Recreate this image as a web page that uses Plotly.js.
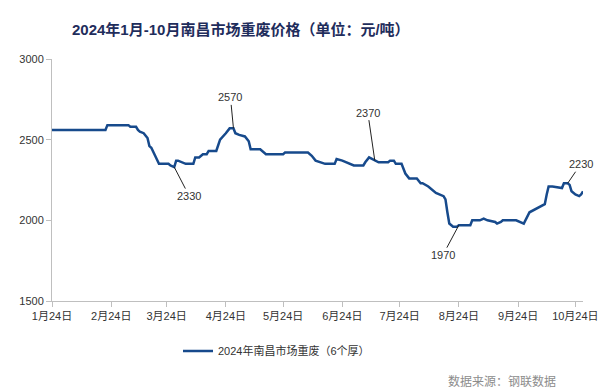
<!DOCTYPE html>
<html>
<head>
<meta charset="utf-8">
<script src="https://cdn.plot.ly/plotly-3.0.1.min.js"></script>
<style>html,body{margin:0;padding:0;background:#fff;}#chart{width:599px;height:392px;}</style>
</head>
<body>
<div id="chart"></div>
<script>
// ---- DATA ----
var seriesName = "2024年南昌市场重废（6个厚）";
var dates = [
  "2024-01-24","2024-02-21","2024-02-22","2024-03-04","2024-03-05","2024-03-08","2024-03-09","2024-03-10",
  "2024-03-12","2024-03-14","2024-03-15","2024-03-16","2024-03-18","2024-03-20","2024-03-25","2024-03-26",
  "2024-03-28","2024-03-29","2024-03-30","2024-04-01","2024-04-03","2024-04-07","2024-04-08","2024-04-10",
  "2024-04-11","2024-04-12","2024-04-14","2024-04-15","2024-04-19","2024-04-21","2024-04-24","2024-04-26",
  "2024-04-28","2024-04-29","2024-05-01","2024-05-04","2024-05-06","2024-05-07","2024-05-12","2024-05-15",
  "2024-05-24","2024-05-25","2024-06-06","2024-06-08","2024-06-10","2024-06-15","2024-06-20","2024-06-21",
  "2024-06-24","2024-06-26","2024-06-28","2024-06-30","2024-07-05","2024-07-06","2024-07-08","2024-07-11",
  "2024-07-13","2024-07-18","2024-07-19","2024-07-21","2024-07-22","2024-07-25","2024-07-27","2024-07-29",
  "2024-08-02","2024-08-04","2024-08-05","2024-08-08","2024-08-10","2024-08-11","2024-08-12","2024-08-16",
  "2024-08-17","2024-08-18","2024-08-19","2024-08-21","2024-08-23","2024-08-24","2024-08-30","2024-08-31",
  "2024-09-04","2024-09-06","2024-09-08","2024-09-12","2024-09-13","2024-09-15","2024-09-16","2024-09-23",
  "2024-09-27","2024-09-30","2024-10-03","2024-10-08","2024-10-09","2024-10-10","2024-10-12","2024-10-17",
  "2024-10-18","2024-10-20","2024-10-21","2024-10-22","2024-10-24","2024-10-26","2024-10-27","2024-10-28"
];
var prices = [
  2560,2560,2590,2590,2580,2580,2560,2550,
  2540,2510,2460,2450,2400,2350,2350,2340,
  2330,2370,2370,2360,2350,2350,2390,2390,
  2400,2410,2410,2430,2430,2500,2540,2570,
  2570,2540,2530,2520,2490,2440,2440,2410,
  2410,2420,2420,2400,2370,2350,2350,2380,
  2370,2360,2350,2340,2340,2360,2390,2370,
  2360,2360,2370,2370,2350,2350,2290,2260,
  2260,2230,2230,2210,2190,2180,2170,2150,
  2130,2050,1980,1960,1960,1970,1970,2000,
  2000,2010,2000,1990,1980,1990,2000,2000,
  1980,2050,2070,2100,2160,2210,2210,2200,
  2230,2230,2220,2180,2160,2150,2160,2180
];
var tickDates = ["2024-01-24","2024-02-24","2024-03-24","2024-04-24","2024-05-24","2024-06-24","2024-07-24","2024-08-24","2024-09-24","2024-10-24"];
var tickLabels = ["1月24日","2月24日","3月24日","4月24日","5月24日","6月24日","7月24日","8月24日","9月24日","10月24日"];
var yTicks = [1500, 2000, 2500, 3000];
var labelDates = ["2024-03-28","2024-04-28","2024-07-11","2024-08-24","2024-10-20"];
var labelValues = [2330, 2570, 2370, 1970, 2230];
var titleText = "2024年1月-10月南昌市场重废价格（单位：元/吨）";
var sourceText = "数据来源：钢联数据";

// ---- STYLE ----
var FONT = "Liberation Sans, Noto Sans CJK SC, sans-serif";
var labelOffsets = [[15, 29], [-3, -31], [-7, -48], [-16, 30], [13, -19]];

var annotations = labelDates.map(function (d, i) {
  return {
    x: d, y: labelValues[i], xref: "x", yref: "y",
    text: String(labelValues[i]),
    showarrow: true, arrowhead: 0, arrowwidth: 1, arrowcolor: "#222",
    ax: labelOffsets[i][0], ay: labelOffsets[i][1],
    font: {family: FONT, size: 11, color: "#333"}
  };
});
annotations.push({
  text: sourceText, xref: "paper", yref: "paper",
  x: (446 - 52) / 531, y: (301 - 380) / 242, xanchor: "left", yanchor: "middle",
  showarrow: false, font: {family: "Noto Sans CJK SC, sans-serif", size: 12, color: "#8c8c8c"}
});

var trace = {
  type: "scatter", mode: "lines", name: seriesName,
  x: dates, y: prices,
  line: {color: "#174A8C", width: 2.5}
};

var layout = {
  width: 599, height: 392,
  margin: {l: 52, r: 16, t: 59, b: 91},
  paper_bgcolor: "#fff", plot_bgcolor: "#fff",
  font: {family: FONT, size: 11, color: "#333"},
  title: {
    text: titleText, xref: "container", yref: "container",
    x: 72 / 599, xanchor: "left", y: 1 - 30 / 392, yanchor: "middle",
    font: {family: "Liberation Sans, Noto Sans CJK SC, sans-serif", size: 15, color: "#1F2D5C", weight: "bold"}
  },
  xaxis: {
    type: "date", range: ["2024-01-24", "2024-10-28"],
    tickmode: "array", tickvals: tickDates, ticktext: tickLabels,
    showgrid: false, zeroline: false, showline: true, linecolor: "#BFBFBF", linewidth: 1,
    ticks: "outside", ticklen: 5, tickcolor: "#BFBFBF",
    tickfont: {family: FONT, size: 11, color: "#333"}
  },
  yaxis: {
    range: [1500, 3000], tickmode: "array", tickvals: yTicks,
    showgrid: false, zeroline: false, showline: true, linecolor: "#BFBFBF", linewidth: 1,
    ticks: "outside", ticklen: 5, tickcolor: "#BFBFBF",
    tickfont: {family: FONT, size: 11, color: "#333"}
  },
  showlegend: true,
  legend: {
    orientation: "h", xref: "container", yref: "container",
    x: 178 / 599, xanchor: "left", y: 1 - 351 / 392, yanchor: "middle",
    font: {family: FONT, size: 11, color: "#333"}, bgcolor: "rgba(0,0,0,0)"
  },
  annotations: annotations
};

Plotly.newPlot("chart", [trace], layout, {staticPlot: true, displayModeBar: false});
</script>
</body>
</html>
